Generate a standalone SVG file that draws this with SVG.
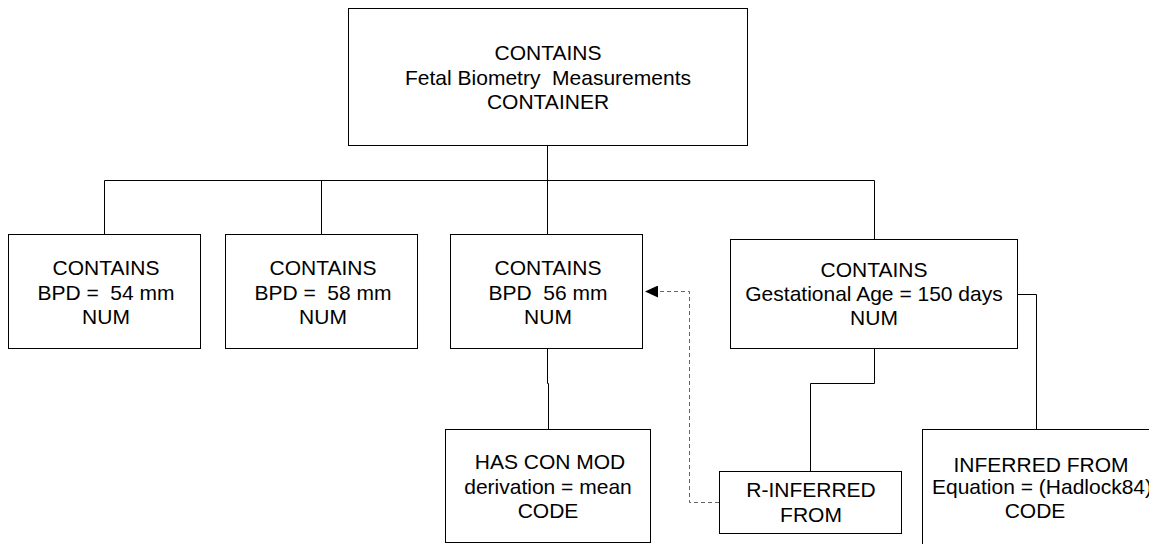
<svg xmlns="http://www.w3.org/2000/svg" width="1149" height="544" viewBox="0 0 1149 544">
<style>
.box{fill:#fff;stroke:#000;stroke-width:1}
.ln{fill:none;stroke:#000;stroke-width:1}
.dash{fill:none;stroke:#666;stroke-width:1;stroke-dasharray:4 3}
text{font-family:"Liberation Sans",Arial,sans-serif;font-size:21px;fill:#000;text-anchor:middle;white-space:pre}
</style>
<defs>
<marker id="arr" markerWidth="14" markerHeight="12" refX="13" refY="6" orient="auto" markerUnits="userSpaceOnUse">
<path d="M0,0 L13,6 L0,12 Z" fill="#000"/>
</marker>
</defs>
<rect width="1149" height="544" fill="#fff"/>
<g id="connectors">
<line class="ln" x1="547.5" y1="145.5" x2="547.5" y2="234.5"/>
<line class="ln" x1="104.5" y1="180.5" x2="874.5" y2="180.5"/>
<line class="ln" x1="104.5" y1="180.5" x2="104.5" y2="234.5"/>
<line class="ln" x1="321.5" y1="180.5" x2="321.5" y2="234.5"/>
<line class="ln" x1="874.5" y1="180.5" x2="874.5" y2="239.5"/>
<polyline class="ln" points="547.5,349 547.5,383.5 548.5,383.5 548.5,429.5"/>
<polyline class="ln" points="874.5,349 874.5,383.5 810.5,383.5 810.5,472"/>
<polyline class="ln" points="1018,294.5 1036.5,294.5 1036.5,429.5"/>
<polyline class="dash" points="719,502.5 689.5,502.5 689.5,291.5 645,291.5" marker-end="url(#arr)"/>
</g>
<g id="n-root">
<rect class="box" x="348.5" y="8.5" width="399" height="137"/>
<text x="548" y="60">CONTAINS</text>
<text x="548" y="85">Fetal Biometry  Measurements</text>
<text x="548" y="109">CONTAINER</text>
</g>
<g id="n-bpd54">
<rect class="box" x="8.5" y="234.5" width="192" height="114"/>
<text x="106" y="275">CONTAINS</text>
<text x="106" y="300">BPD =  54 mm</text>
<text x="106" y="324">NUM</text>
</g>
<g id="n-bpd58">
<rect class="box" x="225.5" y="234.5" width="192" height="114"/>
<text x="323" y="275">CONTAINS</text>
<text x="323" y="300">BPD =  58 mm</text>
<text x="323" y="324">NUM</text>
</g>
<g id="n-bpd56">
<rect class="box" x="450.5" y="234.5" width="192" height="114"/>
<text x="548" y="275">CONTAINS</text>
<text x="548" y="300">BPD  56 mm</text>
<text x="548" y="324">NUM</text>
</g>
<g id="n-ga">
<rect class="box" x="730.5" y="239.5" width="287" height="109"/>
<text x="874" y="277">CONTAINS</text>
<text x="874" y="301">Gestational Age = 150 days</text>
<text x="874" y="325">NUM</text>
</g>
<g id="n-conmod">
<rect class="box" x="445.5" y="429.5" width="205" height="113"/>
<text x="550" y="469">HAS CON MOD</text>
<text x="548" y="494">derivation = mean</text>
<text x="548" y="518">CODE</text>
</g>
<g id="n-rinf">
<rect class="box" x="719.5" y="471.5" width="182" height="62"/>
<text x="811" y="497">R-INFERRED</text>
<text x="811" y="522">FROM</text>
</g>
<g id="n-inf">
<rect class="box" x="922.5" y="429.5" width="240" height="130"/>
<text x="1041" y="472">INFERRED FROM</text>
<text x="1042" y="494">Equation = (Hadlock84)</text>
<text x="1035" y="518">CODE</text>
</g>
</svg>
